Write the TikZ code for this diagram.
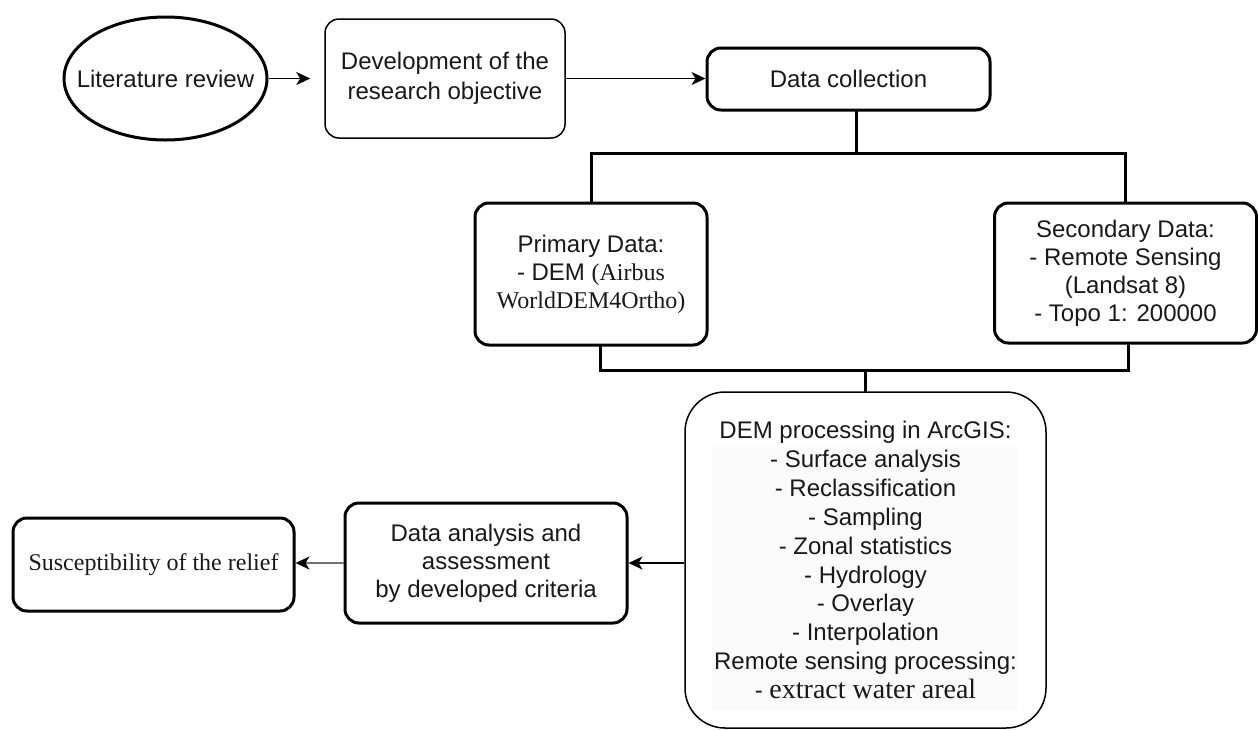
\documentclass[tikz,border=0pt]{standalone}
\usepackage{fontspec}
\setmainfont{Liberation Sans}
\newfontfamily\serifface{Liberation Serif}
\usetikzlibrary{shapes.geometric,arrows.meta}

\begin{document}
\begin{tikzpicture}[x=1pt,y=-1pt,
  txt/.style={align=center, inner sep=0pt, text=black!90,
    font=\fontsize{24}{28}\selectfont},
  box/.style={txt, draw=black, rectangle, rounded corners=14pt,
    line width=3pt},
  thinbox/.style={box, line width=1.5pt},
  link/.style={draw=black, line width=3pt, line join=miter, line cap=rect},
  arr/.style={draw=black, line width=1.8pt,
    -{Stealth[length=14pt, width=13pt, inset=4pt]}},
  arrgray/.style={arr, draw=black!55,
    -{Stealth[length=14pt, width=13pt, inset=4pt, black]}}]

\useasboundingbox (0,0) rectangle (1258,729);
\fill[white] (0,0) rectangle (1258,729);

% top row
\node[txt, draw, ellipse, line width=3pt, minimum width=203pt,
      minimum height=123pt] (lit) at (165.5,78.5)
      {\makebox[0pt]{Literature review}};
\node[thinbox, minimum width=240pt, minimum height=119pt,
      font=\fontsize{24}{30}\selectfont] (dev) at (445,78.5)
      {Development of the\\research objective};
\node[box, minimum width=283pt, minimum height=62pt] (dc) at (848.5,79)
      {Data collection};

% data sources
\node[box, minimum width=232pt, minimum height=142pt] (prim) at (591,274)
      {Primary Data:\\- DEM {\serifface(Airbus}\\{\serifface WorldDEM4Ortho)}};
\node[box, minimum width=262pt, minimum height=140pt] (sec) at (1125.5,273)
      {Secondary Data:\\- Remote Sensing\\(Landsat 8)\\- Topo 1: 200000};

% processing
\fill[black!2] (712,447) rectangle (1017,710);
\node[thinbox, rounded corners=40pt, minimum width=361pt, minimum height=336pt,
      font=\fontsize{24}{28.9}\selectfont] (dem) at (865.5,560)
      {DEM processing in ArcGIS:\\- Surface analysis\\- Reclassification\\
       - Sampling\\- Zonal statistics\\- Hydrology\\- Overlay\\
       - Interpolation\\Remote sensing processing:\\
       - {\serifface\fontsize{28}{28.9}\selectfont extract water areal}};

% results
\node[box, minimum width=282pt, minimum height=120pt] (da) at (486,563)
      {Data analysis and\\assessment\\by developed criteria};
\node[box, minimum width=281pt, minimum height=93pt] (sus) at (153.5,564.5)
      {\serifface Susceptibility of the relief};

% flow of the top row
\draw[arr, shorten >=14pt] (lit) -- (dev);
\draw[arr] (dev.east) -- (dev.east -| dc.west);

% split into the two data sources
\coordinate (jt) at (856,153);
\draw[link] (dc.south -| jt) -- (jt);
\draw[link] (prim.north) |- (jt) -| (sec.north);

% merge into processing
\coordinate (jb) at (865.5,370);
\draw[link] ([xshift=9pt]prim.south) |- (jb) -| ([xshift=3pt]sec.south);
\draw[link] (jb) -- (dem.north);

% flow of the bottom row
\draw[arr] (da.east -| dem.west) -- (da.east);
\draw[arrgray] (da.west) -- (da.west -| sus.east);
\end{tikzpicture}
\end{document}
